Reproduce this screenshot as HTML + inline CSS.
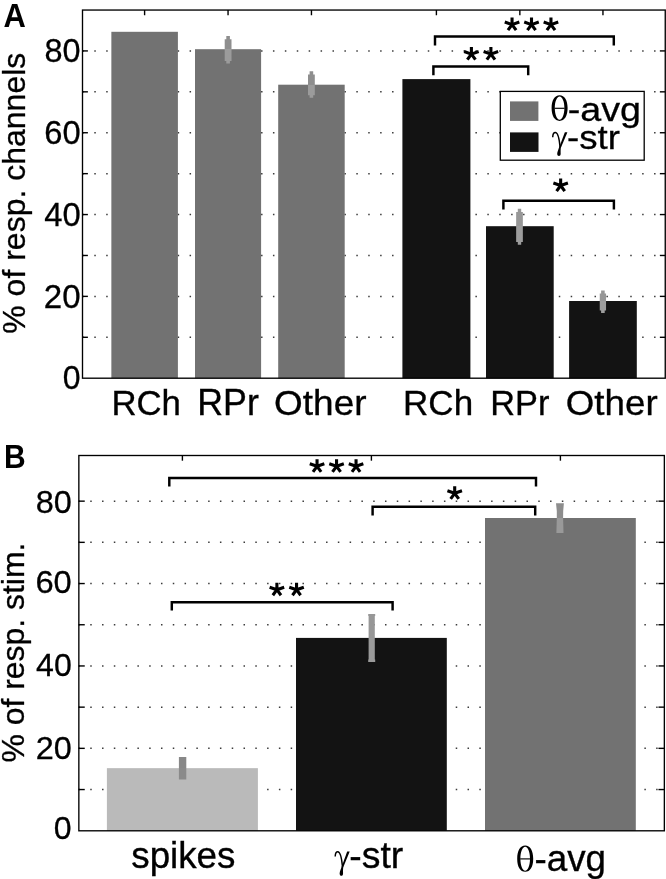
<!DOCTYPE html>
<html><head><meta charset="utf-8"><style>
html,body{margin:0;padding:0;background:#fff;}
body{width:666px;height:879px;overflow:hidden;}
svg{display:block;will-change:transform;}
text{font-family:"Liberation Sans",sans-serif;fill:#000;}
</style></head><body>
<svg width="666" height="879" viewBox="0 0 666 879">
<line x1="82.38" y1="337.29" x2="662.25" y2="337.29" stroke="#3c3c3c" stroke-width="1.5" stroke-dasharray="1.5 10.41"/>
<line x1="82.38" y1="296.38" x2="662.25" y2="296.38" stroke="#3c3c3c" stroke-width="1.5" stroke-dasharray="1.5 10.41"/>
<line x1="82.38" y1="255.47" x2="662.25" y2="255.47" stroke="#3c3c3c" stroke-width="1.5" stroke-dasharray="1.5 10.41"/>
<line x1="82.38" y1="214.56" x2="662.25" y2="214.56" stroke="#3c3c3c" stroke-width="1.5" stroke-dasharray="1.5 10.41"/>
<line x1="82.38" y1="173.65" x2="662.25" y2="173.65" stroke="#3c3c3c" stroke-width="1.5" stroke-dasharray="1.5 10.41"/>
<line x1="82.38" y1="132.74" x2="662.25" y2="132.74" stroke="#3c3c3c" stroke-width="1.5" stroke-dasharray="1.5 10.41"/>
<line x1="82.38" y1="91.83" x2="662.25" y2="91.83" stroke="#3c3c3c" stroke-width="1.5" stroke-dasharray="1.5 10.41"/>
<line x1="82.38" y1="50.92" x2="662.25" y2="50.92" stroke="#3c3c3c" stroke-width="1.5" stroke-dasharray="1.5 10.41"/>
<rect x="111.36" y="31.8" width="66.54" height="346.4" fill="#727272"/>
<rect x="195" y="49.2" width="66.1" height="329" fill="#727272"/>
<rect x="278.2" y="84.7" width="66.5" height="293.5" fill="#727272"/>
<rect x="402.4" y="79.1" width="68" height="299.1" fill="#131313"/>
<rect x="486" y="226.2" width="67.7" height="152" fill="#131313"/>
<rect x="569.1" y="301" width="67.7" height="77.2" fill="#131313"/>
<linearGradient id="g14" gradientUnits="userSpaceOnUse" x1="0" y1="48.7" x2="0" y2="49.7"><stop offset="0.5" stop-color="#8e8e8e"/><stop offset="0.5" stop-color="#9b9b9b"/></linearGradient>
<polygon points="226.3,36.1 229.9,36.1 229.9,39.3 231.5,39.3 231.5,60.9 229.9,60.9 229.9,63.5 226.3,63.5 226.3,60.9 224.7,60.9 224.7,39.3 226.3,39.3" fill="url(#g14)"/>
<linearGradient id="g16" gradientUnits="userSpaceOnUse" x1="0" y1="84.2" x2="0" y2="85.2"><stop offset="0.5" stop-color="#8e8e8e"/><stop offset="0.5" stop-color="#9b9b9b"/></linearGradient>
<polygon points="309.6,71.2 313.2,71.2 313.2,74.4 314.8,74.4 314.8,95.2 313.2,95.2 313.2,97.8 309.6,97.8 309.6,95.2 308,95.2 308,74.4 309.6,74.4" fill="url(#g16)"/>
<linearGradient id="g18" gradientUnits="userSpaceOnUse" x1="0" y1="225.7" x2="0" y2="226.7"><stop offset="0.5" stop-color="#979797"/><stop offset="0.5" stop-color="#9d9d9d"/></linearGradient>
<polygon points="517.8,208.7 521.2,208.7 521.2,212 522.85,212 522.85,242 521.2,242 521.2,244.7 517.8,244.7 517.8,242 516.15,242 516.15,212 517.8,212" fill="url(#g18)"/>
<linearGradient id="g20" gradientUnits="userSpaceOnUse" x1="0" y1="300.5" x2="0" y2="301.5"><stop offset="0.5" stop-color="#979797"/><stop offset="0.5" stop-color="#9d9d9d"/></linearGradient>
<polygon points="601.1,290.5 604.7,290.5 604.7,293.5 606.05,293.5 606.05,310.6 604.7,310.6 604.7,313 601.1,313 601.1,310.6 599.75,310.6 599.75,293.5 601.1,293.5" fill="url(#g20)"/>
<line x1="82.5" y1="337.29" x2="87.9" y2="337.29" stroke="#000" stroke-width="1.4"/>
<line x1="659.85" y1="337.29" x2="665.25" y2="337.29" stroke="#000" stroke-width="1.4"/>
<line x1="82.5" y1="296.38" x2="87.9" y2="296.38" stroke="#000" stroke-width="1.4"/>
<line x1="659.85" y1="296.38" x2="665.25" y2="296.38" stroke="#000" stroke-width="1.4"/>
<line x1="82.5" y1="255.47" x2="87.9" y2="255.47" stroke="#000" stroke-width="1.4"/>
<line x1="659.85" y1="255.47" x2="665.25" y2="255.47" stroke="#000" stroke-width="1.4"/>
<line x1="82.5" y1="214.56" x2="87.9" y2="214.56" stroke="#000" stroke-width="1.4"/>
<line x1="659.85" y1="214.56" x2="665.25" y2="214.56" stroke="#000" stroke-width="1.4"/>
<line x1="82.5" y1="173.65" x2="87.9" y2="173.65" stroke="#000" stroke-width="1.4"/>
<line x1="659.85" y1="173.65" x2="665.25" y2="173.65" stroke="#000" stroke-width="1.4"/>
<line x1="82.5" y1="132.74" x2="87.9" y2="132.74" stroke="#000" stroke-width="1.4"/>
<line x1="659.85" y1="132.74" x2="665.25" y2="132.74" stroke="#000" stroke-width="1.4"/>
<line x1="82.5" y1="91.83" x2="87.9" y2="91.83" stroke="#000" stroke-width="1.4"/>
<line x1="659.85" y1="91.83" x2="665.25" y2="91.83" stroke="#000" stroke-width="1.4"/>
<line x1="82.5" y1="50.92" x2="87.9" y2="50.92" stroke="#000" stroke-width="1.4"/>
<line x1="659.85" y1="50.92" x2="665.25" y2="50.92" stroke="#000" stroke-width="1.4"/>
<line x1="144.6" y1="10.05" x2="144.6" y2="15.25" stroke="#000" stroke-width="1.4"/>
<line x1="228.05" y1="10.05" x2="228.05" y2="15.25" stroke="#000" stroke-width="1.4"/>
<line x1="311.45" y1="10.05" x2="311.45" y2="15.25" stroke="#000" stroke-width="1.4"/>
<line x1="436.4" y1="10.05" x2="436.4" y2="15.25" stroke="#000" stroke-width="1.4"/>
<line x1="519.85" y1="10.05" x2="519.85" y2="15.25" stroke="#000" stroke-width="1.4"/>
<line x1="602.95" y1="10.05" x2="602.95" y2="15.25" stroke="#000" stroke-width="1.4"/>
<rect x="82.5" y="10.05" width="582.75" height="368.15" fill="none" stroke="#000" stroke-width="1.35"/>
<path d="M435 45.5V36.4H613.8V45.5" fill="none" stroke="#000" stroke-width="2.45"/>
<path d="M433.4 75.2V66.4H528.2V75.2" fill="none" stroke="#000" stroke-width="2.45"/>
<path d="M503.4 209.5V200.7H613.9V209.5" fill="none" stroke="#000" stroke-width="2.45"/>
<path d="M512.05 24.6L512.05 17.6M512.05 24.6L519.33 22.09M512.05 24.6L504.77 22.09M512.05 24.6L516.11 30.18M512.05 24.6L507.99 30.18" stroke="#000" stroke-width="3.1" fill="none"/><path d="M531.5 24.6L531.5 17.6M531.5 24.6L538.78 22.09M531.5 24.6L524.22 22.09M531.5 24.6L535.56 30.18M531.5 24.6L527.44 30.18" stroke="#000" stroke-width="3.1" fill="none"/><path d="M550.95 24.6L550.95 17.6M550.95 24.6L558.23 22.09M550.95 24.6L543.67 22.09M550.95 24.6L555.01 30.18M550.95 24.6L546.89 30.18" stroke="#000" stroke-width="3.1" fill="none"/>
<path d="M471.4 54.1L471.4 47.1M471.4 54.1L478.68 51.59M471.4 54.1L464.12 51.59M471.4 54.1L475.46 59.68M471.4 54.1L467.34 59.68" stroke="#000" stroke-width="3.1" fill="none"/><path d="M490.9 54.1L490.9 47.1M490.9 54.1L498.18 51.59M490.9 54.1L483.62 51.59M490.9 54.1L494.96 59.68M490.9 54.1L486.84 59.68" stroke="#000" stroke-width="3.1" fill="none"/>
<path d="M560.65 185.5L560.65 178.5M560.65 185.5L567.93 182.99M560.65 185.5L553.37 182.99M560.65 185.5L564.71 191.08M560.65 185.5L556.59 191.08" stroke="#000" stroke-width="3.1" fill="none"/>
<rect x="500.3" y="91.4" width="143.9" height="68.8" fill="#fff" stroke="#000" stroke-width="1.3"/>
<rect x="510" y="101.4" width="28.4" height="19.5" fill="#727272"/>
<rect x="510" y="132.4" width="28.5" height="19.5" fill="#131313"/>
<path d="M559.6 95.3C564.56 95.3 567.6 100.16 567.6 108.1C567.6 116.04 564.56 120.9 559.6 120.9C554.64 120.9 551.6 116.04 551.6 108.1C551.6 100.16 554.64 95.3 559.6 95.3ZM559.6 96.45C562.29 96.45 564.4 101.58 564.4 108.1C564.4 114.62 562.29 119.75 559.6 119.75C556.91 119.75 554.8 114.62 554.8 108.1C554.8 101.58 556.91 96.45 559.6 96.45Z" fill="#000" fill-rule="evenodd"/><rect x="554.6" y="107.72" width="10" height="1.15" fill="#000"/>
<g transform="translate(552 131.8) scale(1.0200 0.9720)"><path d="M0.7 5.6C0.8 2.4 2 0.8 3.3 0.8C5.5 0.8 7.1 7 7.9 15.6" fill="none" stroke="#000" stroke-width="1.45"/><path d="M12.6 0.5H15.1L8.9 15.8H7.1Z" fill="#000"/><path d="M7.1 15.4C6.6 18 5.1 20.5 5.1 22.7C5.1 24.3 5.9 25 6.8 25C7.8 25 8.5 24.2 8.5 22.7C8.5 20.5 8.3 18 8.9 15.4Z" fill="#000"/></g>
<line x1="78.45" y1="789.55" x2="661.35" y2="789.55" stroke="#3c3c3c" stroke-width="1.5" stroke-dasharray="1.5 10.29"/>
<line x1="78.45" y1="748.35" x2="661.35" y2="748.35" stroke="#3c3c3c" stroke-width="1.5" stroke-dasharray="1.5 10.29"/>
<line x1="78.45" y1="707.15" x2="661.35" y2="707.15" stroke="#3c3c3c" stroke-width="1.5" stroke-dasharray="1.5 10.29"/>
<line x1="78.45" y1="665.95" x2="661.35" y2="665.95" stroke="#3c3c3c" stroke-width="1.5" stroke-dasharray="1.5 10.29"/>
<line x1="78.45" y1="624.75" x2="661.35" y2="624.75" stroke="#3c3c3c" stroke-width="1.5" stroke-dasharray="1.5 10.29"/>
<line x1="78.45" y1="583.55" x2="661.35" y2="583.55" stroke="#3c3c3c" stroke-width="1.5" stroke-dasharray="1.5 10.29"/>
<line x1="78.45" y1="542.35" x2="661.35" y2="542.35" stroke="#3c3c3c" stroke-width="1.5" stroke-dasharray="1.5 10.29"/>
<line x1="78.45" y1="501.15" x2="661.35" y2="501.15" stroke="#3c3c3c" stroke-width="1.5" stroke-dasharray="1.5 10.29"/>
<rect x="106.9" y="768.15" width="151" height="62.65" fill="#bababa"/>
<rect x="296" y="637.9" width="150.8" height="192.9" fill="#131313"/>
<rect x="485" y="518" width="150.8" height="312.8" fill="#727272"/>
<linearGradient id="g67" gradientUnits="userSpaceOnUse" x1="0" y1="767.65" x2="0" y2="768.65"><stop offset="0.5" stop-color="#888888"/><stop offset="0.5" stop-color="#8a8a8a"/></linearGradient>
<polygon points="178.9,757 186.3,757 186.3,779.5 178.9,779.5" fill="url(#g67)"/>
<linearGradient id="g69" gradientUnits="userSpaceOnUse" x1="0" y1="637.4" x2="0" y2="638.4"><stop offset="0.5" stop-color="#979797"/><stop offset="0.5" stop-color="#9a9a9a"/></linearGradient>
<polygon points="368.2,613.9 375.2,613.9 375.2,615.9 374.8,615.9 374.8,659.6 375.2,659.6 375.2,662 368.2,662 368.2,659.6 368.6,659.6 368.6,615.9 368.2,615.9" fill="url(#g69)"/>
<linearGradient id="g71" gradientUnits="userSpaceOnUse" x1="0" y1="517.5" x2="0" y2="518.5"><stop offset="0.5" stop-color="#8d8d8d"/><stop offset="0.5" stop-color="#999999"/></linearGradient>
<polygon points="556,503.2 563.9,503.2 563.2,511 563.1,518 563.4,529 563.5,532.9 556.4,532.9 556.5,529 556.8,518 556.8,511" fill="url(#g71)"/>
<line x1="78.85" y1="789.55" x2="84.75" y2="789.55" stroke="#000" stroke-width="1.4"/>
<line x1="658.45" y1="789.55" x2="664.35" y2="789.55" stroke="#000" stroke-width="1.4"/>
<line x1="78.85" y1="748.35" x2="84.75" y2="748.35" stroke="#000" stroke-width="1.4"/>
<line x1="658.45" y1="748.35" x2="664.35" y2="748.35" stroke="#000" stroke-width="1.4"/>
<line x1="78.85" y1="707.15" x2="84.75" y2="707.15" stroke="#000" stroke-width="1.4"/>
<line x1="658.45" y1="707.15" x2="664.35" y2="707.15" stroke="#000" stroke-width="1.4"/>
<line x1="78.85" y1="665.95" x2="84.75" y2="665.95" stroke="#000" stroke-width="1.4"/>
<line x1="658.45" y1="665.95" x2="664.35" y2="665.95" stroke="#000" stroke-width="1.4"/>
<line x1="78.85" y1="624.75" x2="84.75" y2="624.75" stroke="#000" stroke-width="1.4"/>
<line x1="658.45" y1="624.75" x2="664.35" y2="624.75" stroke="#000" stroke-width="1.4"/>
<line x1="78.85" y1="583.55" x2="84.75" y2="583.55" stroke="#000" stroke-width="1.4"/>
<line x1="658.45" y1="583.55" x2="664.35" y2="583.55" stroke="#000" stroke-width="1.4"/>
<line x1="78.85" y1="542.35" x2="84.75" y2="542.35" stroke="#000" stroke-width="1.4"/>
<line x1="658.45" y1="542.35" x2="664.35" y2="542.35" stroke="#000" stroke-width="1.4"/>
<line x1="78.85" y1="501.15" x2="84.75" y2="501.15" stroke="#000" stroke-width="1.4"/>
<line x1="658.45" y1="501.15" x2="664.35" y2="501.15" stroke="#000" stroke-width="1.4"/>
<line x1="182.4" y1="455.5" x2="182.4" y2="460.7" stroke="#000" stroke-width="1.4"/>
<line x1="371.4" y1="455.5" x2="371.4" y2="460.7" stroke="#000" stroke-width="1.4"/>
<line x1="560.4" y1="455.5" x2="560.4" y2="460.7" stroke="#000" stroke-width="1.4"/>
<rect x="78.85" y="455.5" width="585.5" height="375.3" fill="none" stroke="#000" stroke-width="1.35"/>
<path d="M169.3 486.4V478H536V486.4" fill="none" stroke="#000" stroke-width="2.45"/>
<path d="M372.6 515.4V506.7H535.2V515.4" fill="none" stroke="#000" stroke-width="2.45"/>
<path d="M171.8 610.5V602.3H392.6V610.5" fill="none" stroke="#000" stroke-width="2.45"/>
<path d="M317.05 466.3L317.05 459.3M317.05 466.3L324.33 463.79M317.05 466.3L309.77 463.79M317.05 466.3L321.11 471.88M317.05 466.3L312.99 471.88" stroke="#000" stroke-width="3.1" fill="none"/><path d="M336.55 466.3L336.55 459.3M336.55 466.3L343.83 463.79M336.55 466.3L329.27 463.79M336.55 466.3L340.61 471.88M336.55 466.3L332.49 471.88" stroke="#000" stroke-width="3.1" fill="none"/><path d="M356.05 466.3L356.05 459.3M356.05 466.3L363.33 463.79M356.05 466.3L348.77 463.79M356.05 466.3L360.11 471.88M356.05 466.3L351.99 471.88" stroke="#000" stroke-width="3.1" fill="none"/>
<path d="M454.7 493.3L454.7 486.3M454.7 493.3L461.98 490.79M454.7 493.3L447.42 490.79M454.7 493.3L458.76 498.88M454.7 493.3L450.64 498.88" stroke="#000" stroke-width="3.1" fill="none"/>
<path d="M276.9 589.7L276.9 582.7M276.9 589.7L284.18 587.19M276.9 589.7L269.62 587.19M276.9 589.7L280.96 595.28M276.9 589.7L272.84 595.28" stroke="#000" stroke-width="3.1" fill="none"/><path d="M296.55 589.7L296.55 582.7M296.55 589.7L303.83 587.19M296.55 589.7L289.27 587.19M296.55 589.7L300.61 595.28M296.55 589.7L292.49 595.28" stroke="#000" stroke-width="3.1" fill="none"/>
<g transform="translate(334.5 851) scale(1.0067 0.9920)"><path d="M0.7 5.6C0.8 2.4 2 0.8 3.3 0.8C5.5 0.8 7.1 7 7.9 15.6" fill="none" stroke="#000" stroke-width="1.45"/><path d="M12.6 0.5H15.1L8.9 15.8H7.1Z" fill="#000"/><path d="M7.1 15.4C6.6 18 5.1 20.5 5.1 22.7C5.1 24.3 5.9 25 6.8 25C7.8 25 8.5 24.2 8.5 22.7C8.5 20.5 8.3 18 8.9 15.4Z" fill="#000"/></g>
<path d="M525.2 845.6C530.16 845.6 533.2 850.58 533.2 858.7C533.2 866.82 530.16 871.8 525.2 871.8C520.24 871.8 517.2 866.82 517.2 858.7C517.2 850.58 520.24 845.6 525.2 845.6ZM525.2 846.75C527.89 846.75 530 852.01 530 858.7C530 865.39 527.89 870.65 525.2 870.65C522.51 870.65 520.4 865.39 520.4 858.7C520.4 852.01 522.51 846.75 525.2 846.75Z" fill="#000" fill-rule="evenodd"/><rect x="520.2" y="858.33" width="10" height="1.15" fill="#000"/>
<text transform="translate(567.74 120.5) scale(1.1072 1)" style="font-size:34px;stroke:#000;stroke-width:0.3px">-avg</text>
<text transform="translate(567.09 149.4) scale(1.0766 1)" style="font-size:34px;stroke:#000;stroke-width:0.3px">-str</text>
<text transform="translate(3.55 26.6) scale(0.9976 1.0494)" style="font-size:31px;font-weight:bold">A</text>
<text transform="translate(62.69 388.55) scale(0.9714 0.9978)" style="font-size:33px;stroke:#000;stroke-width:0.3px">0</text>
<text transform="translate(43.85 307.65) scale(1.0015 0.9849)" style="font-size:33px;stroke:#000;stroke-width:0.3px">20</text>
<text transform="translate(44.16 225.65) scale(0.9928 0.9849)" style="font-size:33px;stroke:#000;stroke-width:0.3px">40</text>
<text transform="translate(44.27 144.15) scale(0.9896 1.0022)" style="font-size:33px;stroke:#000;stroke-width:0.3px">60</text>
<text transform="translate(44.53 62.15) scale(0.9824 1.0065)" style="font-size:33px;stroke:#000;stroke-width:0.3px">80</text>
<text transform="translate(24.6 333.75) rotate(-90) scale(1.0002 1)" style="font-size:32px;stroke:#000;stroke-width:0.3px">% of resp. channels</text>
<text transform="translate(111.4 415) scale(0.9663 1)" style="font-size:36px;stroke:#000;stroke-width:0.35px">RCh</text>
<text transform="translate(197.22 415) scale(0.9949 1)" style="font-size:36px;stroke:#000;stroke-width:0.35px">RPr</text>
<text transform="translate(274.1 415) scale(1.0268 1)" style="font-size:36px;stroke:#000;stroke-width:0.35px">Other</text>
<text transform="translate(403.08 415) scale(0.9723 1)" style="font-size:36px;stroke:#000;stroke-width:0.35px">RCh</text>
<text transform="translate(490.34 415) scale(0.9538 1)" style="font-size:36px;stroke:#000;stroke-width:0.35px">RPr</text>
<text transform="translate(565.82 415) scale(1.0199 1)" style="font-size:36px;stroke:#000;stroke-width:0.35px">Other</text>
<text transform="translate(3.96 467.5) scale(0.9684 1.0494)" style="font-size:31px;font-weight:bold">B</text>
<text transform="translate(53.75 838.56) scale(1.0033 0.9600)" style="font-size:32px;stroke:#000;stroke-width:0.3px">0</text>
<text transform="translate(35.68 759.15) scale(1.0137 0.9956)" style="font-size:32px;stroke:#000;stroke-width:0.3px">20</text>
<text transform="translate(36.05 675.86) scale(1.0030 0.9778)" style="font-size:32px;stroke:#000;stroke-width:0.3px">40</text>
<text transform="translate(35.41 593.15) scale(1.0215 0.9911)" style="font-size:32px;stroke:#000;stroke-width:0.3px">60</text>
<text transform="translate(35.68 513.46) scale(1.0137 0.9733)" style="font-size:32px;stroke:#000;stroke-width:0.3px">80</text>
<text transform="translate(23.9 762.55) rotate(-90) scale(0.9975 1)" style="font-size:32px;stroke:#000;stroke-width:0.3px">% of resp. stim.</text>
<text transform="translate(131.29 867.9) scale(1.0069 1)" style="font-size:36.5px;stroke:#000;stroke-width:0.35px">spikes</text>
<text transform="translate(349.36 867.9) scale(1.0238 1)" style="font-size:36.5px;stroke:#000;stroke-width:0.35px">-str</text>
<text transform="translate(534.49 870.6) scale(1.0075 1)" style="font-size:36.5px;stroke:#000;stroke-width:0.35px">-avg</text>
</svg>
</body></html>
